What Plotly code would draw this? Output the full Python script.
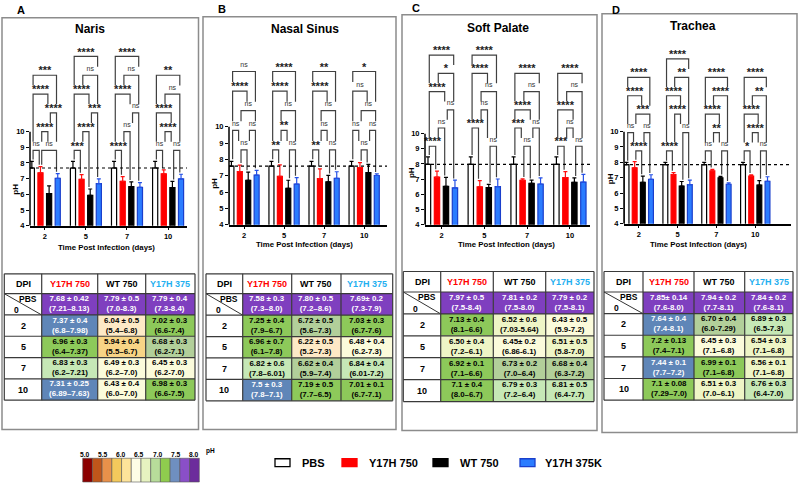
import re
import plotly.graph_objects as go

W, H = 798, 488
FONT = "Liberation Sans, Arial, sans-serif"

# ---------------- data ----------------
tissues = ["Naris", "Nasal Sinus", "Soft Palate", "Trachea"]
panel_letters = ["A", "B", "C", "D"]
days = ["2", "5", "7", "10"]
series_names = ["PBS", "Y17H 750", "WT 750", "Y17H 375K"]
table_header = ["DPI", "Y17H 750", "WT 750", "Y17H 375"]
row_labels = ["0", "2", "5", "7", "10"]
baseline_label = "PBS"
colorbar_ticks = ["5.0", "5.5", "6.0", "6.5", "7.0", "7.5", "8.0"]
axis_title_x = "Time Post Infection (days)"
axis_title_y = "pH"

naris_stats = [
    ["7.68 ± 0.42", "7.79 ± 0.5", "7.79 ± 0.4"],
    ["7.37 ± 0.4", "6.04 ± 0.5", "7.02 ± 0.3"],
    ["6.96 ± 0.3", "5.94 ± 0.4", "6.68 ± 0.3"],
    ["6.83 ± 0.3", "6.49 ± 0.3", "6.45 ± 0.3"],
    ["7.31 ± 0.25", "6.43 ± 0.4", "6.98 ± 0.3"],
]
naris_ranges = [
    ["(7.21–8.13)", "(7.0-8.3)", "(7.3-8.4)"],
    ["(6.8–7.98)", "(5.4–6.8)", "(6.6-7.4)"],
    ["(6.4–7.37)", "(5.5–6.7)", "(6.2-7.1)"],
    ["(6.2–7.21)", "(6.2–7.0)", "(6.2-7.0)"],
    ["(6.89–7.63)", "(6.0–7.0)", "(6.6-7.5)"],
]
sinus_stats = [
    ["7.58 ± 0.3", "7.80 ± 0.5", "7.69± 0.2"],
    ["7.25 ± 0.4", "6.72 ± 0.5", "7.03 ± 0.3"],
    ["6.96 ± 0.7", "6.22 ± 0.5", "6.48 + 0.4"],
    ["6.82 ± 0.6", "6.62 ± 0.4", "6.84 ± 0.4"],
    ["7.5 ± 0.3", "7.19 ± 0.5", "7.01 ± 0.1"],
]
sinus_ranges = [
    ["(7.3–8.0)", "(7.2–8.6)", "(7.3-7.9)"],
    ["(7.9–6.7)", "(5.6–7.3)", "(6.7-7.6)"],
    ["(6.1–7.8)", "(5.2–7.3)", "(6.2-7.3)"],
    ["(7.8–6.01)", "(5.9–7.4)", "(6.01-7.2)"],
    ["(7.8–7.1)", "(7.7–6.5)", "(6.7-7.1)"],
]
palate_stats = [
    ["7.97 ± 0.5", "7.81 ± 0.2", "7.79 ± 0.2"],
    ["7.13 ± 0.4", "6.52 ± 0.6", "6.43 ± 0.5"],
    ["6.50 ± 0.4", "6.45± 0.2", "6.51 ± 0.5"],
    ["6.92 ± 0.1", "6.73 ± 0.2", "6.68 ± 0.4"],
    ["7.1 ± 0.4", "6.79 ± 0.3", "6.81 ± 0.5"],
]
palate_ranges = [
    ["(7.5-8.4)", "(7.5-8.0)", "(7.5-8.1)"],
    ["(8.1–6.6)", "(7.03-5.64)", "(5.9-7.2)"],
    ["(7.2–6.1)", "(6.86-6.1)", "(5.8-7.0)"],
    ["(7.1–6.6)", "(7.0–6.4)", "(6.3-7.2)"],
    ["(8.0–6.7)", "(7.2–6.4)", "(6.4-7.7)"],
]
trachea_stats = [
    ["7.85± 0.14", "7.94 ± 0.2", "7.84 ± 0.2"],
    ["7.64 ± 0.4", "6.70 ± 0.4", "6.89 ± 0.3"],
    ["7.2 ± 0.13", "6.45 ± 0.3", "6.54 ± 0.3"],
    ["7.44 ± 0.1", "6.99 ± 0.1", "6.56 ± 0.1"],
    ["7.1 ± 0.08", "6.51 ± 0.3", "6.76 ± 0.3"],
]
trachea_ranges = [
    ["(7.6-8.0)", "(7.7-8.1)", "(7.6-8.1)"],
    ["(7.4-8.1)", "(6.0-7.29)", "(6.5-7.3)"],
    ["(7.4–7.1)", "(7.1–6.8)", "(7.1–6.8)"],
    ["(7.7–7.2)", "(7.1–6.8)", "(7.1–6.8)"],
    ["(7.29–7.0)", "(7.0–6.1)", "(6.4-7.0)"],
]

# pairwise comparisons per day, listed tier by tier (bottom tier first)
# group index: 0 PBS, 1 Y17H 750, 2 WT 750, 3 Y17H 375K
naris_tests = [
    [[(0, 1, "ns"), (1, 3, "ns")], [(1, 2, "****")], [(2, 3, "****")], [(0, 2, "****")], [(0, 3, "***")]],
    [[(0, 1, "***")], [(1, 2, "****")], [(2, 3, "***")], [(0, 2, "****")], [(1, 3, "ns")], [(0, 3, "****")]],
    [[(0, 1, "****")], [(1, 2, "ns")], [(2, 3, "ns")], [(0, 2, "****")], [(1, 3, "ns")], [(0, 3, "****")]],
    [[(0, 1, "ns"), (2, 3, "ns")], [(1, 2, "****")], [(0, 2, "****")], [(1, 3, "ns")], [(0, 3, "**")]],
]
sinus_tests = [
    [[(1, 2, "ns")], [(0, 1, "ns"), (2, 3, "ns")], [(1, 3, "ns")], [(0, 2, "****")], [(0, 3, "ns")]],
    [[(0, 1, "**"), (2, 3, "ns")], [(1, 2, "**")], [(1, 3, "ns")], [(0, 2, "****")], [(0, 3, "****")]],
    [[(0, 1, "**"), (2, 3, "ns")], [(1, 2, "ns")], [(1, 3, "ns")], [(0, 2, "****")], [(0, 3, "**")]],
    [[(1, 2, "ns")], [(0, 1, "ns"), (2, 3, "ns")], [(1, 3, "ns")], [(0, 2, "ns")], [(0, 3, "*")]],
]
palate_tests = [
    [[(0, 1, "****")], [(1, 2, "ns")], [(2, 3, "ns")], [(0, 2, "****")], [(1, 3, "*")], [(0, 3, "****")]],
    [[(2, 3, "ns")], [(0, 1, "****")], [(1, 2, "ns")], [(1, 3, "ns")], [(0, 2, "****")], [(0, 3, "****")]],
    [[(1, 2, "ns")], [(0, 1, "***"), (2, 3, "ns")], [(0, 2, "****")], [(1, 3, "ns")], [(0, 3, "****")]],
    [[(0, 1, "***"), (2, 3, "ns")], [(1, 2, "ns")], [(0, 2, "****")], [(1, 3, "ns")], [(0, 3, "****")]],
]
trachea_tests = [
    [[(1, 2, "****")], [(0, 1, "ns"), (2, 3, "ns")], [(1, 3, "***")], [(0, 2, "****")], [(0, 3, "****")]],
    [[(0, 1, "****")], [(2, 3, "ns")], [(1, 2, "****")], [(0, 2, "****")], [(1, 3, "**")], [(0, 3, "****")]],
    [[(0, 1, "ns"), (2, 3, "ns")], [(1, 2, "**")], [(0, 2, "****")], [(1, 3, "****")], [(0, 3, "****")]],
    [[(0, 1, "*"), (2, 3, "ns")], [(1, 2, "****")], [(0, 2, "****")], [(1, 3, "**")], [(0, 3, "****")]],
]

all_stats = [naris_stats, sinus_stats, palate_stats, trachea_stats]
all_ranges = [naris_ranges, sinus_ranges, palate_ranges, trachea_ranges]
all_tests = [naris_tests, sinus_tests, palate_tests, trachea_tests]

# ---------------- styling / layout ----------------
bar_fill = ["#ffffff", "#ff0000", "#000000", "#2b7cff"]
bar_edge = ["#000000", "#ff0000", "#000000", "#1a3fcc"]
err_col = ["#000000", "#ff1010", "#000000", "#2450e6"]
header_colors = ["#000000", "#ff0000", "#000000", "#1fb0f0"]
colorbar_colors = ["#8b0000", "#c0561a", "#e8914a", "#f3c95c", "#fde39a", "#fdfde6",
                   "#e6f2c0", "#b7dc9a", "#8fcc4e", "#6f8fc0", "#8a4fc8", "#6c2c9c"]
PURPLE, STEEL = "#7f3fbf", "#5f86b8"

panel_box = [(2, 18, 198.5, 434), (203, 17, 396, 434), (402, 15, 597, 435), (602, 14, 797, 437)]
title_pos = [(90, 29), (305, 29), (498, 28), (693, 26)]
letter_pos = [(21, 10), (221.5, 9), (415.5, 8), (616, 10)]
xtitle_pos = [(106, 250), (304, 247.5), (506, 247.5), (698, 247.5)]
ytitle_val = [6.3, 6.5, 7.4, 6.9]
axes_geo = [
    dict(x0=30, x1=187, ybot=228, ppu=15.83, xr=[-0.36, 3.46]),
    dict(x0=229, x1=387, ybot=227, ppu=16.5, xr=[-0.375, 3.57]),
    dict(x0=425, x1=590, ybot=227, ppu=15.33, xr=[-0.385, 3.47]),
    dict(x0=624, x1=791, ybot=226, ppu=15.5, xr=[-0.38, 3.92]),
]
tables_geo = [
    dict(cols=[4.3, 41.7, 97.7, 145.7, 195], top=276.7, head=20, bottom=404.3),
    dict(cols=[206, 242.7, 291.7, 341, 392.7], top=276.7, head=20, bottom=405),
    dict(cols=[403.3, 440.7, 493.3, 545.7, 594], top=274.3, head=20.7, bottom=405.7),
    dict(cols=[604, 643, 694, 744.7, 793], top=274.3, head=20.7, bottom=404.3),
]
YMIN, YMAX = 4, 16
BAR_STEP, BW = 0.21, 0.125
OFFS = [(-1.5 + k) * BAR_STEP for k in range(4)]
STEP, DELTA, GAP, CLEAR = 1.2, 0.03, 0.12, 0.55


def fx(p):
    return p / W


def fy(p):
    return 1 - p / H


def parse(s):
    nums = re.findall(r"\d+\.\d+|\d+", s)
    return float(nums[0]), float(nums[1])


def cell_fill(v, baseline):
    if baseline or v >= 7.7:
        return PURPLE
    if v >= 7.3:
        return STEEL
    if v >= 6.9:
        return "#8dc95a"
    if v >= 6.75:
        return "#c6e8b6"
    if v >= 6.6:
        return "#b2cf9a"
    if v >= 6.5:
        return "#eef5c6"
    if v >= 6.4:
        return "#fbfbdb"
    if v >= 6.0:
        return "#fde9c6"
    if v >= 5.5:
        return "#f8d486"
    return "#e8914a"


shapes, annots = [], []


def rect(x0, y0, x1, y1, fill=None, color=None, width=0, layer="above"):
    shapes.append(dict(type="rect", xref="paper", yref="paper", x0=fx(x0), x1=fx(x1),
                       y0=fy(y1), y1=fy(y0), fillcolor=fill or "rgba(0,0,0,0)",
                       line=dict(color=color or "rgba(0,0,0,0)", width=width), layer=layer))


def seg(x0, y0, x1, y1, color="#333333", width=1.0):
    shapes.append(dict(type="line", xref="paper", yref="paper", x0=fx(x0), x1=fx(x1),
                       y0=fy(y0), y1=fy(y1), line=dict(color=color, width=width)))


def text(x, y, s, size, color="#000000", bold=True, xanchor="center", angle=0, **kw):
    if bold:
        s = "<br>".join("<b>%s</b>" % l for l in s.split("<br>"))
    annots.append(dict(xref=kw.get("xref", "paper"), yref=kw.get("yref", "paper"),
                       x=x if "xref" in kw else fx(x), y=y if "yref" in kw else fy(y),
                       text=s, showarrow=False, xanchor=xanchor, yanchor="middle",
                       textangle=angle, font=dict(family=FONT, size=size, color=color),
                       xshift=kw.get("xshift", 0)))


fig = go.Figure()

for p in range(4):
    g = axes_geo[p]
    xa = "x" if p == 0 else "x%d" % (p + 1)
    ya = "y" if p == 0 else "y%d" % (p + 1)
    stats = all_stats[p]
    tests = all_tests[p]
    ytop = g["ybot"] - (YMAX - YMIN) * g["ppu"]

    # bar values
    means, sds = [], []
    pbs_m, pbs_s = parse(stats[0][0])
    means.append([pbs_m] * 4)
    sds.append([pbs_s] * 4)
    for c in range(3):
        vals = [parse(stats[r][c]) for r in range(1, 5)]
        means.append([v[0] for v in vals])
        sds.append([v[1] for v in vals])

    for k in range(4):
        fig.add_trace(go.Bar(
            x=list(range(4)), y=means[k], width=BW, offset=OFFS[k] - BW / 2,
            marker=dict(color=bar_fill[k], line=dict(color=bar_edge[k], width=1.2)),
            error_y=dict(type="data", array=sds[k], arrayminus=[0] * 4, symmetric=False,
                         color=err_col[k], thickness=1.2, width=2),
            xaxis=xa, yaxis=ya, showlegend=False, name=series_names[k], hoverinfo="skip"))

    fig.update_layout({
        ("xaxis" if p == 0 else "xaxis%d" % (p + 1)): dict(
            domain=[fx(g["x0"]), fx(g["x1"])], range=g["xr"], anchor=ya,
            tickvals=list(range(4)), ticktext=["<b>%s</b>" % d for d in days],
            ticks="outside", ticklen=3, tickwidth=1.2, tickcolor="black",
            showline=True, linecolor="black", linewidth=1.5, showgrid=False, zeroline=False,
            tickfont=dict(family=FONT, size=7.5, color="black"), fixedrange=True),
        ("yaxis" if p == 0 else "yaxis%d" % (p + 1)): dict(
            domain=[fy(g["ybot"]), fy(ytop)], range=[YMIN, YMAX], anchor=xa,
            tickvals=list(range(4, 11)), ticktext=["<b>%d</b>" % v for v in range(4, 11)],
            ticks="outside", ticklen=3, tickwidth=1.2, tickcolor="black",
            showline=False, showgrid=False, zeroline=False,
            tickfont=dict(family=FONT, size=7.5, color="black"), fixedrange=True),
    })
    # y axis line (4..10) and PBS reference line
    shapes.append(dict(type="line", xref="%s domain" % xa, yref=ya, x0=0, x1=0, y0=4, y1=10,
                       line=dict(color="black", width=1.5)))
    shapes.append(dict(type="line", xref="%s domain" % xa, yref=ya, x0=0, x1=1, y0=pbs_m, y1=pbs_m,
                       line=dict(color="black", width=1.2, dash="dot"), layer="above"))

    # significance brackets
    tops = [[means[k][d] + sds[k][d] for d in range(4)] for k in range(4)]
    base = max(max(t) for t in tops) + 0.7
    bx, by = [], []
    lab_star = dict(x=[], y=[], t=[])
    lab_ns = dict(x=[], y=[], t=[])
    for d, tiers in enumerate(tests):
        levels = [base + STEP * t for t in range(len(tiers))]
        for t, tier in enumerate(tiers):
            for (i, j, lab) in tier:
                def leg_bottom(b):
                    bottom = tops[b][d] + GAP
                    for t2 in range(t):
                        for (pp, qq, _) in tiers[t2]:
                            if pp <= b <= qq:
                                bottom = max(bottom, levels[t2] + CLEAR)
                    return bottom
                xl = d + OFFS[i] + DELTA
                xr = d + OFFS[j] - DELTA
                yl = levels[t]
                bx += [xl, xl, xr, xr, None]
                by += [leg_bottom(i), yl, yl, leg_bottom(j), None]
                if "*" in lab:
                    lab_star["x"].append((xl + xr) / 2)
                    lab_star["y"].append(yl + 3.7 / g["ppu"])
                    lab_star["t"].append(lab)
                else:
                    lab_ns["x"].append((xl + xr) / 2)
                    lab_ns["y"].append(yl + 6.3 / g["ppu"])
                    lab_ns["t"].append(lab)
    fig.add_trace(go.Scatter(x=bx, y=by, mode="lines", line=dict(color="#404040", width=1.2),
                             xaxis=xa, yaxis=ya, showlegend=False, hoverinfo="skip"))
    fig.add_trace(go.Scatter(x=lab_star["x"], y=lab_star["y"], text=lab_star["t"], mode="text",
                             textposition="middle center", cliponaxis=False,
                             textfont=dict(family=FONT, size=11, color="#222222", weight="bold"),
                             xaxis=xa, yaxis=ya, showlegend=False, hoverinfo="skip"))
    fig.add_trace(go.Scatter(x=lab_ns["x"], y=lab_ns["y"], text=lab_ns["t"], mode="text",
                             textposition="middle center", cliponaxis=False,
                             textfont=dict(family=FONT, size=7, color="#333333"),
                             xaxis=xa, yaxis=ya, showlegend=False, hoverinfo="skip"))

    # panel decorations
    bx0, by0, bx1, by1 = panel_box[p]
    rect(bx0, by0, bx1, by1, color="#8c8c8c", width=1.5, layer="below")
    text(title_pos[p][0], title_pos[p][1], tissues[p], 12)
    text(letter_pos[p][0], letter_pos[p][1], panel_letters[p], 11)
    text(xtitle_pos[p][0], xtitle_pos[p][1], axis_title_x, 7.8)
    text(0, ytitle_val[p], axis_title_y, 8, angle=-90, xref="%s domain" % xa, yref=ya, xshift=-14)

    # table
    tg = tables_geo[p]
    cols = tg["cols"]
    rh = (tg["bottom"] - tg["top"] - tg["head"]) / 5
    rows = [tg["top"], tg["top"] + tg["head"]] + [tg["top"] + tg["head"] + rh * (r + 1) for r in range(5)]
    rect(cols[0], rows[0], cols[-1], rows[-1], fill="#ffffff", layer="below")
    for c in range(4):
        text((cols[c] + cols[c + 1]) / 2, (rows[0] + rows[1]) / 2, table_header[c], 9, header_colors[c])
    ranges = all_ranges[p]
    for r in range(5):
        ymid = (rows[r + 1] + rows[r + 2]) / 2
        for c in range(3):
            v = parse(stats[r][c])[0]
            fill = cell_fill(v, r == 0)
            rect(cols[c + 1], rows[r + 1], cols[c + 2], rows[r + 2], fill=fill)
            tc = "#ffffff" if fill in (PURPLE, STEEL) else "#000000"
            text((cols[c + 1] + cols[c + 2]) / 2, ymid - 0.6, stats[r][c] + "<br>" + ranges[r][c], 7.9, tc)
        if r == 0:
            w0 = cols[1] - cols[0]
            seg(cols[0], rows[1], cols[1], rows[2], "#333333", 1)
            text(cols[0] + 0.63 * w0, rows[1] + 0.25 * rh, baseline_label, 8.5)
            text(cols[0] + 0.33 * w0, rows[1] + 0.76 * rh, row_labels[0], 8.5)
        else:
            text((cols[0] + cols[1]) / 2, ymid, row_labels[r], 9)
    for yv in rows:
        seg(cols[0], yv, cols[-1], yv, "#3a3a3a", 1.2)
    for xv in cols:
        seg(xv, rows[0], xv, rows[-1], "#3a3a3a", 1.2)

# colour scale key
cb_x0, cb_x1, cb_y0, cb_y1 = 82.7, 199.3, 463, 487
cw = (cb_x1 - cb_x0) / len(colorbar_colors)
for i, col in enumerate(colorbar_colors):
    rect(cb_x0 + i * cw, cb_y0, cb_x0 + (i + 1) * cw, cb_y1, fill=col, color="#555555", width=0.6)
for lab in colorbar_ticks:
    text(85 + (float(lab) - 5.0) * 36.33, 459, lab, 6.7)
text(210, 456, "pH", 6.5)

# legend
leg_items = [(275, 300), (342, 367), (433, 458), (520, 543)]
for k, (bx, tx) in enumerate(leg_items):
    rect(bx, 463.5, bx + 15, 471.5, fill=bar_fill[k], color=bar_edge[k], width=1.3)
    text(tx, 467.5, series_names[k], 11, xanchor="left")

fig.update_layout(
    width=W, height=H, margin=dict(l=0, r=0, t=0, b=0), autosize=False,
    paper_bgcolor="white", plot_bgcolor="rgba(0,0,0,0)", barmode="overlay",
    shapes=shapes, annotations=annots, showlegend=False,
    font=dict(family=FONT, color="black"),
)
fig.write_html("out.html", config={"displayModeBar": False},
               post_script="document.body.style.margin='0px';")
